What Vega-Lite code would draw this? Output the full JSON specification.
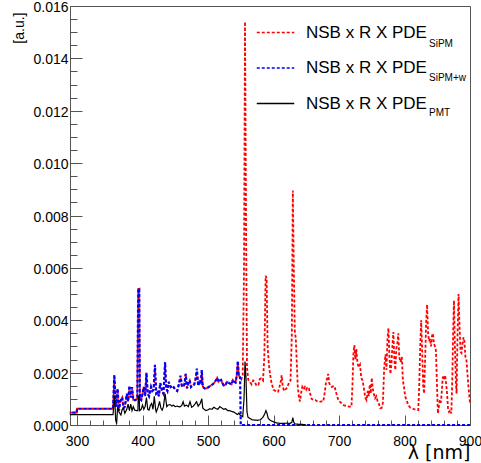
{
"$schema":"https://vega.github.io/schema/vega-lite/v6.json",
"width":400,"height":419,
"autosize":{"type":"none"},
"padding":{"left":70,"top":6,"right":11,"bottom":38},
"background":"white",
"config":{
 "font":"Liberation Sans",
 "view":{"stroke":"#555","strokeWidth":1},
 "axis":{"domain":false,"grid":false,"labelFont":"Liberation Sans","labelFontSize":14,"labelColor":"#000","tickColor":"#555","tickWidth":1,"labelFlush":false,"labelOverlap":false,"titleFont":"Liberation Sans","titleFontWeight":"normal","titleColor":"#000"},
 "legend":{"labelFont":"Liberation Sans","labelColor":"#000"}
},
"data":{"values":[
{"s":"SiPM","x":289,"y":0.00047},{"s":"SiPM","x":299.5,"y":0.00047},{"s":"SiPM","x":300,"y":0.00062},{"s":"SiPM","x":355,"y":0.00062},{"s":"SiPM","x":356,"y":0.0012},{"s":"SiPM","x":357,"y":0.0018},{"s":"SiPM","x":359,"y":0.0008},{"s":"SiPM","x":360,"y":0.0007},{"s":"SiPM","x":362,"y":0.00135},{"s":"SiPM","x":364,"y":0.0006},{"s":"SiPM","x":366,"y":0.0009},{"s":"SiPM","x":369,"y":0.00105},{"s":"SiPM","x":371,"y":0.00065},{"s":"SiPM","x":373,"y":0.0007},{"s":"SiPM","x":376,"y":0.00115},{"s":"SiPM","x":378,"y":0.0009},{"s":"SiPM","x":380,"y":0.00145},{"s":"SiPM","x":382,"y":0.00105},{"s":"SiPM","x":384,"y":0.0014},{"s":"SiPM","x":386,"y":0.00095},{"s":"SiPM","x":389,"y":0.00095},{"s":"SiPM","x":392,"y":0.001},{"s":"SiPM","x":393.5,"y":0.0052},{"s":"SiPM","x":395,"y":0.0052},{"s":"SiPM","x":396,"y":0.001},{"s":"SiPM","x":398,"y":0.00095},{"s":"SiPM","x":400,"y":0.0012},{"s":"SiPM","x":402,"y":0.00145},{"s":"SiPM","x":404,"y":0.0011},{"s":"SiPM","x":406,"y":0.00195},{"s":"SiPM","x":408,"y":0.0012},{"s":"SiPM","x":410,"y":0.0011},{"s":"SiPM","x":413,"y":0.00145},{"s":"SiPM","x":415,"y":0.0013},{"s":"SiPM","x":417,"y":0.00135},{"s":"SiPM","x":419,"y":0.0021},{"s":"SiPM","x":421,"y":0.0012},{"s":"SiPM","x":423,"y":0.00125},{"s":"SiPM","x":425,"y":0.0011},{"s":"SiPM","x":427,"y":0.0016},{"s":"SiPM","x":430,"y":0.0013},{"s":"SiPM","x":432,"y":0.0012},{"s":"SiPM","x":434.5,"y":0.0023},{"s":"SiPM","x":436,"y":0.0014},{"s":"SiPM","x":438,"y":0.0013},{"s":"SiPM","x":440,"y":0.00165},{"s":"SiPM","x":443,"y":0.00145},{"s":"SiPM","x":446,"y":0.0015},{"s":"SiPM","x":450,"y":0.00135},{"s":"SiPM","x":453,"y":0.0013},{"s":"SiPM","x":456,"y":0.0016},{"s":"SiPM","x":458,"y":0.0018},{"s":"SiPM","x":460,"y":0.0015},{"s":"SiPM","x":462,"y":0.00145},{"s":"SiPM","x":464,"y":0.00155},{"s":"SiPM","x":466,"y":0.00195},{"s":"SiPM","x":468,"y":0.0014},{"s":"SiPM","x":470,"y":0.0016},{"s":"SiPM","x":472,"y":0.0017},{"s":"SiPM","x":474,"y":0.00145},{"s":"SiPM","x":476,"y":0.0015},{"s":"SiPM","x":479,"y":0.00155},{"s":"SiPM","x":481,"y":0.00175},{"s":"SiPM","x":483,"y":0.00205},{"s":"SiPM","x":485,"y":0.0015},{"s":"SiPM","x":487,"y":0.00165},{"s":"SiPM","x":489,"y":0.0016},{"s":"SiPM","x":490.5,"y":0.00205},{"s":"SiPM","x":492,"y":0.00145},{"s":"SiPM","x":495,"y":0.0014},{"s":"SiPM","x":498,"y":0.0014},{"s":"SiPM","x":501,"y":0.00145},{"s":"SiPM","x":504,"y":0.0015},{"s":"SiPM","x":507,"y":0.00155},{"s":"SiPM","x":509,"y":0.0016},{"s":"SiPM","x":512,"y":0.0017},{"s":"SiPM","x":514,"y":0.0018},{"s":"SiPM","x":516,"y":0.00165},{"s":"SiPM","x":518,"y":0.0017},{"s":"SiPM","x":520,"y":0.00172},{"s":"SiPM","x":522,"y":0.0016},{"s":"SiPM","x":524,"y":0.0015},{"s":"SiPM","x":527,"y":0.00155},{"s":"SiPM","x":529,"y":0.00165},{"s":"SiPM","x":532,"y":0.0016},{"s":"SiPM","x":534,"y":0.00158},{"s":"SiPM","x":536,"y":0.00155},{"s":"SiPM","x":538,"y":0.00172},{"s":"SiPM","x":540,"y":0.00165},{"s":"SiPM","x":542,"y":0.00162},{"s":"SiPM","x":544,"y":0.0019},{"s":"SiPM","x":545.5,"y":0.00235},{"s":"SiPM","x":547,"y":0.0019},{"s":"SiPM","x":549,"y":0.00182},{"s":"SiPM","x":551,"y":0.00175},{"s":"SiPM","x":553,"y":0.0019},{"s":"SiPM","x":555,"y":0.006},{"s":"SiPM","x":556.5,"y":0.0154},{"s":"SiPM","x":558,"y":0.008},{"s":"SiPM","x":559.5,"y":0.0022},{"s":"SiPM","x":561.5,"y":0.00172},{"s":"SiPM","x":564,"y":0.00165},{"s":"SiPM","x":566.5,"y":0.00155},{"s":"SiPM","x":569,"y":0.0017},{"s":"SiPM","x":571.5,"y":0.00165},{"s":"SiPM","x":574,"y":0.0015},{"s":"SiPM","x":577,"y":0.00153},{"s":"SiPM","x":579,"y":0.00175},{"s":"SiPM","x":581,"y":0.00178},{"s":"SiPM","x":584,"y":0.0017},{"s":"SiPM","x":586,"y":0.0026},{"s":"SiPM","x":588,"y":0.0057},{"s":"SiPM","x":589.5,"y":0.0056},{"s":"SiPM","x":591,"y":0.003},{"s":"SiPM","x":593,"y":0.0023},{"s":"SiPM","x":595,"y":0.0019},{"s":"SiPM","x":597,"y":0.0016},{"s":"SiPM","x":600,"y":0.00135},{"s":"SiPM","x":603,"y":0.0013},{"s":"SiPM","x":605,"y":0.00125},{"s":"SiPM","x":607,"y":0.00127},{"s":"SiPM","x":609,"y":0.00145},{"s":"SiPM","x":611,"y":0.00165},{"s":"SiPM","x":612.5,"y":0.0019},{"s":"SiPM","x":614,"y":0.0015},{"s":"SiPM","x":616,"y":0.0013},{"s":"SiPM","x":618,"y":0.00135},{"s":"SiPM","x":620,"y":0.0014},{"s":"SiPM","x":622,"y":0.0015},{"s":"SiPM","x":624,"y":0.00165},{"s":"SiPM","x":626,"y":0.0017},{"s":"SiPM","x":628,"y":0.0035},{"s":"SiPM","x":629.5,"y":0.00895},{"s":"SiPM","x":631,"y":0.006},{"s":"SiPM","x":632.5,"y":0.0036},{"s":"SiPM","x":634,"y":0.0033},{"s":"SiPM","x":635.5,"y":0.0024},{"s":"SiPM","x":637,"y":0.0015},{"s":"SiPM","x":639,"y":0.001},{"s":"SiPM","x":640.5,"y":0.0009},{"s":"SiPM","x":642,"y":0.0012},{"s":"SiPM","x":644,"y":0.00145},{"s":"SiPM","x":646,"y":0.00135},{"s":"SiPM","x":648,"y":0.00145},{"s":"SiPM","x":650,"y":0.00135},{"s":"SiPM","x":652,"y":0.00145},{"s":"SiPM","x":654,"y":0.0014},{"s":"SiPM","x":656,"y":0.0012},{"s":"SiPM","x":658,"y":0.001},{"s":"SiPM","x":661,"y":0.00095},{"s":"SiPM","x":664,"y":0.00095},{"s":"SiPM","x":667,"y":0.0009},{"s":"SiPM","x":670,"y":0.00088},{"s":"SiPM","x":673,"y":0.0009},{"s":"SiPM","x":676,"y":0.0009},{"s":"SiPM","x":678,"y":0.0012},{"s":"SiPM","x":680,"y":0.0016},{"s":"SiPM","x":682,"y":0.0018},{"s":"SiPM","x":683.5,"y":0.00195},{"s":"SiPM","x":685,"y":0.0016},{"s":"SiPM","x":687,"y":0.0015},{"s":"SiPM","x":689,"y":0.00145},{"s":"SiPM","x":692,"y":0.0015},{"s":"SiPM","x":694,"y":0.0014},{"s":"SiPM","x":696,"y":0.0012},{"s":"SiPM","x":699,"y":0.00095},{"s":"SiPM","x":703,"y":0.00085},{"s":"SiPM","x":707,"y":0.00076},{"s":"SiPM","x":711,"y":0.00073},{"s":"SiPM","x":715,"y":0.0007},{"s":"SiPM","x":719,"y":0.0007},{"s":"SiPM","x":720.5,"y":0.0015},{"s":"SiPM","x":722,"y":0.0027},{"s":"SiPM","x":723.5,"y":0.00305},{"s":"SiPM","x":725,"y":0.0025},{"s":"SiPM","x":726.5,"y":0.0029},{"s":"SiPM","x":728,"y":0.0024},{"s":"SiPM","x":730,"y":0.0022},{"s":"SiPM","x":732,"y":0.0023},{"s":"SiPM","x":734,"y":0.0018},{"s":"SiPM","x":736,"y":0.0017},{"s":"SiPM","x":738,"y":0.0014},{"s":"SiPM","x":740,"y":0.00105},{"s":"SiPM","x":742,"y":0.00095},{"s":"SiPM","x":744,"y":0.0013},{"s":"SiPM","x":745.5,"y":0.0011},{"s":"SiPM","x":747,"y":0.00155},{"s":"SiPM","x":748.5,"y":0.0012},{"s":"SiPM","x":750,"y":0.0018},{"s":"SiPM","x":751.5,"y":0.0014},{"s":"SiPM","x":753,"y":0.0012},{"s":"SiPM","x":755,"y":0.00102},{"s":"SiPM","x":757,"y":0.0011},{"s":"SiPM","x":759,"y":0.0009},{"s":"SiPM","x":761,"y":0.0008},{"s":"SiPM","x":763,"y":0.00064},{"s":"SiPM","x":765,"y":0.00065},{"s":"SiPM","x":767,"y":0.00085},{"s":"SiPM","x":769,"y":0.0022},{"s":"SiPM","x":771,"y":0.0027},{"s":"SiPM","x":772.5,"y":0.0021},{"s":"SiPM","x":774,"y":0.0033},{"s":"SiPM","x":775.5,"y":0.0037},{"s":"SiPM","x":777,"y":0.0026},{"s":"SiPM","x":778.5,"y":0.00195},{"s":"SiPM","x":780,"y":0.0023},{"s":"SiPM","x":781.5,"y":0.003},{"s":"SiPM","x":783,"y":0.00355},{"s":"SiPM","x":784.5,"y":0.0025},{"s":"SiPM","x":786,"y":0.0021},{"s":"SiPM","x":787.5,"y":0.0029},{"s":"SiPM","x":789,"y":0.0031},{"s":"SiPM","x":790.5,"y":0.0035},{"s":"SiPM","x":792,"y":0.0026},{"s":"SiPM","x":794,"y":0.0024},{"s":"SiPM","x":796,"y":0.0026},{"s":"SiPM","x":797.5,"y":0.0017},{"s":"SiPM","x":799,"y":0.0015},{"s":"SiPM","x":801,"y":0.0011},{"s":"SiPM","x":803,"y":0.00095},{"s":"SiPM","x":806,"y":0.00075},{"s":"SiPM","x":809,"y":0.00066},{"s":"SiPM","x":812,"y":0.00063},{"s":"SiPM","x":815,"y":0.0006},{"s":"SiPM","x":818,"y":0.00057},{"s":"SiPM","x":821,"y":0.00057},{"s":"SiPM","x":822.5,"y":0.0015},{"s":"SiPM","x":824,"y":0.003},{"s":"SiPM","x":825.5,"y":0.004},{"s":"SiPM","x":827,"y":0.0028},{"s":"SiPM","x":828.5,"y":0.0015},{"s":"SiPM","x":830,"y":0.0012},{"s":"SiPM","x":831.5,"y":0.0025},{"s":"SiPM","x":833,"y":0.0039},{"s":"SiPM","x":834.5,"y":0.0046},{"s":"SiPM","x":836,"y":0.0035},{"s":"SiPM","x":837.5,"y":0.0032},{"s":"SiPM","x":839,"y":0.0033},{"s":"SiPM","x":840.5,"y":0.003},{"s":"SiPM","x":842,"y":0.0034},{"s":"SiPM","x":843.5,"y":0.0035},{"s":"SiPM","x":845,"y":0.0031},{"s":"SiPM","x":846.5,"y":0.003},{"s":"SiPM","x":848,"y":0.00285},{"s":"SiPM","x":849.5,"y":0.0016},{"s":"SiPM","x":851,"y":0.00044},{"s":"SiPM","x":852.5,"y":0.0007},{"s":"SiPM","x":854,"y":0.00095},{"s":"SiPM","x":855.5,"y":0.00085},{"s":"SiPM","x":857,"y":0.0013},{"s":"SiPM","x":858.5,"y":0.00185},{"s":"SiPM","x":860,"y":0.00175},{"s":"SiPM","x":862,"y":0.0019},{"s":"SiPM","x":863.5,"y":0.0016},{"s":"SiPM","x":865,"y":0.0012},{"s":"SiPM","x":866.5,"y":0.0006},{"s":"SiPM","x":868,"y":0.0005},{"s":"SiPM","x":870,"y":0.00057},{"s":"SiPM","x":871.5,"y":0.00044},{"s":"SiPM","x":873,"y":0.0018},{"s":"SiPM","x":874.5,"y":0.0038},{"s":"SiPM","x":875.5,"y":0.00475},{"s":"SiPM","x":877,"y":0.003},{"s":"SiPM","x":878.5,"y":0.0016},{"s":"SiPM","x":879.5,"y":0.0012},{"s":"SiPM","x":881,"y":0.0035},{"s":"SiPM","x":882.5,"y":0.005},{"s":"SiPM","x":884,"y":0.0038},{"s":"SiPM","x":885.5,"y":0.0028},{"s":"SiPM","x":887,"y":0.00275},{"s":"SiPM","x":888.5,"y":0.0031},{"s":"SiPM","x":890,"y":0.00335},{"s":"SiPM","x":891.5,"y":0.0032},{"s":"SiPM","x":893,"y":0.0026},{"s":"SiPM","x":894.5,"y":0.0025},{"s":"SiPM","x":896,"y":0.002},{"s":"SiPM","x":897.5,"y":0.0015},{"s":"SiPM","x":899,"y":0.0011},{"s":"SiPM","x":900,"y":0.00085},
{"s":"SiPM+w","x":289,"y":0.00047},{"s":"SiPM+w","x":299.5,"y":0.00047},{"s":"SiPM+w","x":300,"y":0.00062},{"s":"SiPM+w","x":355,"y":0.00062},{"s":"SiPM+w","x":356,"y":0.0013},{"s":"SiPM+w","x":357,"y":0.00192},{"s":"SiPM+w","x":359,"y":0.00085},{"s":"SiPM+w","x":360,"y":0.0007},{"s":"SiPM+w","x":362,"y":0.0014},{"s":"SiPM+w","x":364,"y":0.00055},{"s":"SiPM+w","x":366,"y":0.0009},{"s":"SiPM+w","x":369,"y":0.00105},{"s":"SiPM+w","x":371,"y":0.00065},{"s":"SiPM+w","x":373,"y":0.0007},{"s":"SiPM+w","x":376,"y":0.0012},{"s":"SiPM+w","x":378,"y":0.0009},{"s":"SiPM+w","x":380,"y":0.0015},{"s":"SiPM+w","x":382,"y":0.00105},{"s":"SiPM+w","x":384,"y":0.00145},{"s":"SiPM+w","x":386,"y":0.00095},{"s":"SiPM+w","x":389,"y":0.00095},{"s":"SiPM+w","x":392,"y":0.001},{"s":"SiPM+w","x":393.5,"y":0.0052},{"s":"SiPM+w","x":395,"y":0.0052},{"s":"SiPM+w","x":396,"y":0.001},{"s":"SiPM+w","x":398,"y":0.00095},{"s":"SiPM+w","x":400,"y":0.0012},{"s":"SiPM+w","x":402,"y":0.00145},{"s":"SiPM+w","x":404,"y":0.0011},{"s":"SiPM+w","x":406,"y":0.002},{"s":"SiPM+w","x":408,"y":0.0012},{"s":"SiPM+w","x":410,"y":0.0011},{"s":"SiPM+w","x":413,"y":0.00145},{"s":"SiPM+w","x":415,"y":0.0013},{"s":"SiPM+w","x":417,"y":0.00135},{"s":"SiPM+w","x":419,"y":0.0023},{"s":"SiPM+w","x":421,"y":0.0012},{"s":"SiPM+w","x":423,"y":0.00125},{"s":"SiPM+w","x":425,"y":0.0011},{"s":"SiPM+w","x":427,"y":0.0016},{"s":"SiPM+w","x":430,"y":0.0013},{"s":"SiPM+w","x":432,"y":0.0012},{"s":"SiPM+w","x":434.5,"y":0.0024},{"s":"SiPM+w","x":436,"y":0.0014},{"s":"SiPM+w","x":438,"y":0.0013},{"s":"SiPM+w","x":440,"y":0.00165},{"s":"SiPM+w","x":443,"y":0.00145},{"s":"SiPM+w","x":446,"y":0.0015},{"s":"SiPM+w","x":450,"y":0.00135},{"s":"SiPM+w","x":453,"y":0.0013},{"s":"SiPM+w","x":456,"y":0.0016},{"s":"SiPM+w","x":458,"y":0.00188},{"s":"SiPM+w","x":460,"y":0.0015},{"s":"SiPM+w","x":462,"y":0.00145},{"s":"SiPM+w","x":464,"y":0.00155},{"s":"SiPM+w","x":466,"y":0.00195},{"s":"SiPM+w","x":468,"y":0.0014},{"s":"SiPM+w","x":470,"y":0.0016},{"s":"SiPM+w","x":472,"y":0.0017},{"s":"SiPM+w","x":474,"y":0.00145},{"s":"SiPM+w","x":476,"y":0.0015},{"s":"SiPM+w","x":479,"y":0.00155},{"s":"SiPM+w","x":481,"y":0.00175},{"s":"SiPM+w","x":483,"y":0.00215},{"s":"SiPM+w","x":485,"y":0.0015},{"s":"SiPM+w","x":487,"y":0.00165},{"s":"SiPM+w","x":489,"y":0.0016},{"s":"SiPM+w","x":490.5,"y":0.0021},{"s":"SiPM+w","x":492,"y":0.00145},{"s":"SiPM+w","x":495,"y":0.0014},{"s":"SiPM+w","x":498,"y":0.0014},{"s":"SiPM+w","x":501,"y":0.00145},{"s":"SiPM+w","x":504,"y":0.0015},{"s":"SiPM+w","x":507,"y":0.00155},{"s":"SiPM+w","x":509,"y":0.0016},{"s":"SiPM+w","x":512,"y":0.0017},{"s":"SiPM+w","x":514,"y":0.0018},{"s":"SiPM+w","x":516,"y":0.00165},{"s":"SiPM+w","x":518,"y":0.0017},{"s":"SiPM+w","x":520,"y":0.00172},{"s":"SiPM+w","x":522,"y":0.0016},{"s":"SiPM+w","x":524,"y":0.0015},{"s":"SiPM+w","x":527,"y":0.00155},{"s":"SiPM+w","x":529,"y":0.00165},{"s":"SiPM+w","x":532,"y":0.0016},{"s":"SiPM+w","x":534,"y":0.00158},{"s":"SiPM+w","x":536,"y":0.00155},{"s":"SiPM+w","x":538,"y":0.00172},{"s":"SiPM+w","x":540,"y":0.00165},{"s":"SiPM+w","x":542,"y":0.00162},{"s":"SiPM+w","x":544,"y":0.0019},{"s":"SiPM+w","x":545.5,"y":0.00245},{"s":"SiPM+w","x":547,"y":0.0019},{"s":"SiPM+w","x":549,"y":0.00182},{"s":"SiPM+w","x":550,"y":0},{"s":"SiPM+w","x":700,"y":0},{"s":"SiPM+w","x":900,"y":0},
{"s":"PMT","x":289,"y":0.0004},{"s":"PMT","x":355,"y":0.0004},{"s":"PMT","x":356,"y":0.0007},{"s":"PMT","x":357.5,"y":0.0011},{"s":"PMT","x":359,"y":0.0002},{"s":"PMT","x":360.5,"y":0.00005},{"s":"PMT","x":362,"y":0.0007},{"s":"PMT","x":364,"y":0.0005},{"s":"PMT","x":367,"y":0.00038},{"s":"PMT","x":369,"y":0.0006},{"s":"PMT","x":371,"y":0.00064},{"s":"PMT","x":373,"y":0.00045},{"s":"PMT","x":376,"y":0.0006},{"s":"PMT","x":378,"y":0.0008},{"s":"PMT","x":380,"y":0.00055},{"s":"PMT","x":382,"y":0.0008},{"s":"PMT","x":384,"y":0.00055},{"s":"PMT","x":386,"y":0.0007},{"s":"PMT","x":388,"y":0.00057},{"s":"PMT","x":391,"y":0.00055},{"s":"PMT","x":393,"y":0.00055},{"s":"PMT","x":393.5,"y":0.0011},{"s":"PMT","x":395,"y":0.0011},{"s":"PMT","x":395.5,"y":0.00055},{"s":"PMT","x":398,"y":0.0006},{"s":"PMT","x":400,"y":0.00076},{"s":"PMT","x":402,"y":0.0006},{"s":"PMT","x":404,"y":0.0007},{"s":"PMT","x":406,"y":0.00105},{"s":"PMT","x":408,"y":0.0006},{"s":"PMT","x":410,"y":0.00057},{"s":"PMT","x":412,"y":0.00075},{"s":"PMT","x":414,"y":0.00082},{"s":"PMT","x":416,"y":0.0006},{"s":"PMT","x":418,"y":0.0011},{"s":"PMT","x":420,"y":0.0006},{"s":"PMT","x":421,"y":0.0005},{"s":"PMT","x":424,"y":0.0007},{"s":"PMT","x":426,"y":0.0009},{"s":"PMT","x":428,"y":0.00065},{"s":"PMT","x":430,"y":0.00057},{"s":"PMT","x":432,"y":0.0007},{"s":"PMT","x":434.5,"y":0.0012},{"s":"PMT","x":436,"y":0.0009},{"s":"PMT","x":437,"y":0.0007},{"s":"PMT","x":439,"y":0.00076},{"s":"PMT","x":442,"y":0.00078},{"s":"PMT","x":445,"y":0.00072},{"s":"PMT","x":447,"y":0.00076},{"s":"PMT","x":450,"y":0.0007},{"s":"PMT","x":453,"y":0.00072},{"s":"PMT","x":457,"y":0.00069},{"s":"PMT","x":460,"y":0.00075},{"s":"PMT","x":462,"y":0.00089},{"s":"PMT","x":464,"y":0.00072},{"s":"PMT","x":467,"y":0.00076},{"s":"PMT","x":470,"y":0.0007},{"s":"PMT","x":472.5,"y":0.00089},{"s":"PMT","x":475,"y":0.00068},{"s":"PMT","x":477.5,"y":0.00072},{"s":"PMT","x":480,"y":0.0008},{"s":"PMT","x":482.5,"y":0.00089},{"s":"PMT","x":485,"y":0.00072},{"s":"PMT","x":488,"y":0.00082},{"s":"PMT","x":490.5,"y":0.001},{"s":"PMT","x":492,"y":0.00065},{"s":"PMT","x":494,"y":0.0006},{"s":"PMT","x":497,"y":0.00055},{"s":"PMT","x":500,"y":0.00058},{"s":"PMT","x":503,"y":0.00062},{"s":"PMT","x":506,"y":0.0006},{"s":"PMT","x":509,"y":0.00068},{"s":"PMT","x":512,"y":0.00063},{"s":"PMT","x":515,"y":0.0006},{"s":"PMT","x":518,"y":0.0007},{"s":"PMT","x":521,"y":0.00065},{"s":"PMT","x":524,"y":0.0006},{"s":"PMT","x":527,"y":0.00062},{"s":"PMT","x":530,"y":0.00055},{"s":"PMT","x":533,"y":0.00055},{"s":"PMT","x":536,"y":0.00052},{"s":"PMT","x":539,"y":0.0005},{"s":"PMT","x":542,"y":0.00045},{"s":"PMT","x":545,"y":0.0004},{"s":"PMT","x":547,"y":0.00045},{"s":"PMT","x":549,"y":0.00038},{"s":"PMT","x":551,"y":0.00035},{"s":"PMT","x":553,"y":0.00032},{"s":"PMT","x":555,"y":0.001},{"s":"PMT","x":556.5,"y":0.00242},{"s":"PMT","x":558,"y":0.0018},{"s":"PMT","x":559.5,"y":0.0005},{"s":"PMT","x":561,"y":0.0003},{"s":"PMT","x":564,"y":0.00025},{"s":"PMT","x":567,"y":0.0002},{"s":"PMT","x":570,"y":0.00019},{"s":"PMT","x":575,"y":0.00018},{"s":"PMT","x":580,"y":0.0002},{"s":"PMT","x":584,"y":0.0003},{"s":"PMT","x":586.5,"y":0.00042},{"s":"PMT","x":588.5,"y":0.00055},{"s":"PMT","x":590,"y":0.00045},{"s":"PMT","x":592,"y":0.00025},{"s":"PMT","x":595,"y":0.00018},{"s":"PMT","x":600,"y":0.00012},{"s":"PMT","x":605,"y":0.00008},{"s":"PMT","x":610,"y":0.00006},{"s":"PMT","x":615,"y":0.00006},{"s":"PMT","x":620,"y":0.00007},{"s":"PMT","x":625,"y":0.00006},{"s":"PMT","x":628,"y":0.0001},{"s":"PMT","x":629.5,"y":0.00028},{"s":"PMT","x":631,"y":0.0001},{"s":"PMT","x":633,"y":0.00004},{"s":"PMT","x":638,"y":0.00003},{"s":"PMT","x":645,"y":0.00002},{"s":"PMT","x":650,"y":0}
]},
"resolve":{"axis":{"x":"independent","y":"independent"}},
"layer":[
 {"transform":[{"filter":"datum.s == 'SiPM'"}],
  "mark":{"type":"line","strokeWidth":1.8,"interpolate":"linear"},
  "encoding":{
   "x":{"field":"x","type":"quantitative","scale":{"domain":[289.3,900],"nice":false,"zero":false},
        "axis":{"orient":"bottom","values":[300,400,500,600,700,800,900],"format":"d","tickSize":-10,"labelPadding":19,"title":"λ  [nm]","titleFont":"DejaVu Sans","titleFontSize":19,"titleX":400,"titleY":33,"titleAlign":"right","titleBaseline":"alphabetic","titleAnchor":null}},
   "y":{"field":"y","type":"quantitative","scale":{"domain":[0,0.016],"nice":false,"zero":true},
        "axis":{"orient":"left","values":[0,0.002,0.004,0.006,0.008,0.01,0.012,0.014,0.016],"format":".3f","tickSize":-12,"labelPadding":14,"labelOffset":1.5,"title":"[a.u.]","titleFontSize":14,"titleAngle":-90,"titleX":-51,"titleY":6,"titleAlign":"right","titleBaseline":"middle","titleAnchor":null}},
   "color":{"field":"s","type":"nominal","scale":{"domain":["SiPM","SiPM+w","PMT"],"range":["#ff0000","#0000ff","#000000"]},
        "legend":{"orient":"none","legendX":197,"legendY":18,"title":null,"symbolType":"M-2.5,0H2.5","symbolSize":225,"symbolStrokeWidth":1.3,"labelFontSize":17,"labelOffset":22,"rowPadding":17.5,"labelExpr":"'NSB x R X PDE'"}},
   "strokeDash":{"field":"s","type":"nominal","scale":{"domain":["SiPM","SiPM+w","PMT"],"range":[[3,2],[3,2],[1,0]]}},
   "opacity":{"field":"s","type":"nominal","scale":{"type":"point","domain":["SiPM","SiPM+w","PMT"," "],"range":[1,1]},
        "legend":{"orient":"none","legendX":354,"legendY":30,"title":null,"symbolType":"circle","symbolSize":225,"symbolOpacity":0,"symbolStrokeWidth":0,"labelFontSize":10,"labelOffset":-10,"rowPadding":19.5}}
  }},
 {"transform":[{"filter":"datum.s == 'SiPM+w'"}],
  "mark":{"type":"line","strokeWidth":2.2,"strokeDashOffset":2.5},
  "encoding":{
   "x":{"field":"x","type":"quantitative","axis":{"orient":"bottom","values":[300,320,340,360,380,400,420,440,460,480,500,520,540,560,580,600,620,640,660,680,700,720,740,760,780,800,820,840,860,880,900],"tickSize":-5,"labels":false,"title":null}},
   "y":{"field":"y","type":"quantitative","axis":{"orient":"left","values":[0,0.0005,0.001,0.0015,0.002,0.0025,0.003,0.0035,0.004,0.0045,0.005,0.0055,0.006,0.0065,0.007,0.0075,0.008,0.0085,0.009,0.0095,0.01,0.0105,0.011,0.0115,0.012,0.0125,0.013,0.0135,0.014,0.0145,0.015,0.0155,0.016],"tickSize":-7,"labels":false,"title":null}},
   "color":{"field":"s","type":"nominal"},
   "strokeDash":{"field":"s","type":"nominal"},
   "opacity":{"field":"s","type":"nominal"}
  }},
 {"transform":[{"filter":"datum.s == 'PMT'"}],
  "mark":{"type":"line","strokeWidth":1.2},
  "encoding":{
   "x":{"field":"x","type":"quantitative","axis":null},
   "y":{"field":"y","type":"quantitative","axis":null},
   "color":{"field":"s","type":"nominal"},
   "strokeDash":{"field":"s","type":"nominal"},
   "opacity":{"field":"s","type":"nominal"}
  }}
]
}
